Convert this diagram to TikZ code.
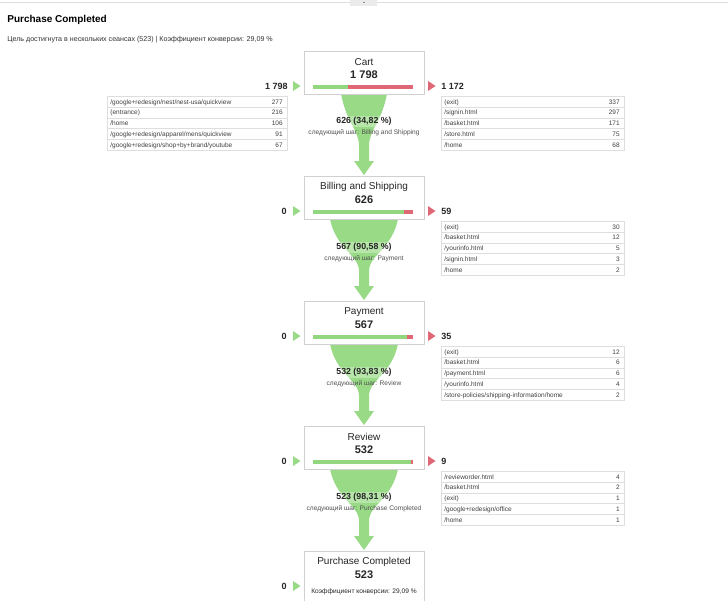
\documentclass[tikz,border=0pt]{standalone}
\usepackage{fontspec}
\setmainfont{Liberation Sans}

\definecolor{fungreen}{RGB}{152,218,134}
\definecolor{bargreen}{RGB}{146,214,128}
\definecolor{exitred}{RGB}{224,104,118}
\definecolor{framegray}{RGB}{208,208,208}
\definecolor{rowgray}{RGB}{222,222,222}
\definecolor{labelgray}{RGB}{80,80,80}

\tikzset{every picture/.style={line width=0.75pt}}
\tikzset{
  stepbox/.style={draw=framegray, fill=white, line width=0.8pt, minimum width=120, minimum height=43, inner sep=0pt},
  steptitle/.style={inner sep=0pt, font=\fontsize{10}{11}\selectfont, text=black!85},
  stepcount/.style={inner sep=0pt, font=\fontsize{11}{12}\selectfont\bfseries, text=black!85},
  sidecount/.style={inner sep=0pt, font=\fontsize{9}{10}\selectfont\bfseries, text=black!85},
  flowcount/.style={inner sep=1pt, font=\fontsize{8.8}{10}\selectfont\bfseries, text=black!85, fill=white, fill opacity=0.3, text opacity=1},
  nextstep/.style={inner sep=0pt, font=\fontsize{6.6}{7.5}\selectfont, text=labelgray},
  rowframe/.style={draw=rowgray, fill=white, line width=0.6pt},
  rowtext/.style={inner sep=0pt, font=\fontsize{6.5}{7}\selectfont, text=black!75},
}

% one row of a page table: left x, top y, width, page, sessions
\newcommand{\pagerow}[5]{%
  \draw[rowframe] (#1,#2) rectangle ++(#3,10.7);
  \node[rowtext,anchor=base west] at (#1+3,#2+7.7) {#4};
  \node[rowtext,anchor=base east] at (#1+#3-4,#2+7.7) {#5};
}

% funnel below a step: top y, half width at top
\newcommand{\stepfunnel}[2]{%
  \fill[fungreen] (364-#2,#1) .. controls (364-#2+6,#1+30) and (359,#1+36) .. (359,#1+52)
    -- (359,#1+67) -- (354,#1+67) -- (364,#1+81) -- (374,#1+67) -- (369,#1+67) -- (369,#1+52)
    .. controls (369,#1+36) and (364+#2-6,#1+30) .. (364+#2,#1) -- cycle;
}

\begin{document}
\begin{tikzpicture}[x=1pt,y=1pt,yscale=-1,xscale=1]
  \useasboundingbox (0,0) rectangle (728,600);
  \clip (0,0) rectangle (728,600);
  \fill[white] (0,0) rectangle (728,600);

  %Shape: top rule and tab
  \draw[color=rowgray, line width=1pt] (0,2) -- (728,2);
  \fill[color=black!8] (350,0) rectangle (377,5.5);
  \fill[color=black!45] (362.5,2.2) rectangle (364.5,3.4);

  % Text Node
  \node (title) [anchor=west, inner sep=0pt, font=\fontsize{10}{12}\selectfont\bfseries] at (7,20) {Purchase Completed};
  % Text Node
  \node (goalinfo) [anchor=west, inner sep=0pt, font=\fontsize{7.1}{8}\selectfont, text=black!80] at (7,40) {Цель достигнута в нескольких сеансах (523) | Коэффициент конверсии: 29,09 \%};

  %Funnels
  \stepfunnel{94}{23}
  \stepfunnel{219}{34}
  \stepfunnel{344}{34}
  \stepfunnel{469}{34}

  %Shape: step boxes
  \node (cart) [stepbox] at (364,72.5) {};
  \node (billing) [stepbox] at (364,197.5) {};
  \node (payment) [stepbox] at (364,322.5) {};
  \node (review) [stepbox] at (364,447.5) {};
  \node (purchase) [stepbox, minimum height=60] at (364,581) {};

  %Shape: progress bars
  \fill[bargreen] (313,85) rectangle (348,89);
  \fill[exitred] (348,85) rectangle (413,89);
  \fill[bargreen] (313,210) rectangle (404,214);
  \fill[exitred] (404,210) rectangle (413,214);
  \fill[bargreen] (313,335) rectangle (407,339);
  \fill[exitred] (407,335) rectangle (413,339);
  \fill[bargreen] (313,460) rectangle (411,464);
  \fill[exitred] (411,460) rectangle (413,464);

  % Text Node
  \node (carttitle) [steptitle] at (364,62) {Cart};
  \node (cartcount) [stepcount] at (364,74.5) {1 798};
  \node (billingtitle) [steptitle] at (364,187) {Billing and Shipping};
  \node (billingcount) [stepcount] at (364,199.5) {626};
  \node (paymenttitle) [steptitle] at (364,312) {Payment};
  \node (paymentcount) [stepcount] at (364,324.5) {567};
  \node (reviewtitle) [steptitle] at (364,437) {Review};
  \node (reviewcount) [stepcount] at (364,449.5) {532};
  \node (purchasetitle) [steptitle] at (364,562) {Purchase Completed};
  \node (purchasecount) [stepcount] at (364,574.5) {523};
  \node (purchaserate) [inner sep=0pt, font=\fontsize{6.6}{7.5}\selectfont, text=black!85] at (364,591.5) {Коэффициент конверсии: 29,09 \%};

  % Text Node: flow between steps
  \node (flowa) [flowcount] at (364,121.5) {626 (34,82 \%)};
  \node (nexta) [nextstep] at (364,132.5) {следующий шаг: Billing and Shipping};
  \node (flowb) [flowcount] at (364,247.5) {567 (90,58 \%)};
  \node (nextb) [nextstep] at (364,258.5) {следующий шаг: Payment};
  \node (flowc) [flowcount] at (364,372.5) {532 (93,83 \%)};
  \node (nextc) [nextstep] at (364,383.5) {следующий шаг: Review};
  \node (flowd) [flowcount] at (364,497.5) {523 (98,31 \%)};
  \node (nextd) [nextstep] at (364,508.5) {следующий шаг: Purchase Completed};

  %Shape: entrance triangles and counts
  \fill[fungreen] (293,81) -- (300.5,86) -- (293,91) -- cycle;
  \fill[fungreen] (293,206) -- (300.5,211) -- (293,216) -- cycle;
  \fill[fungreen] (293,331) -- (300.5,336) -- (293,341) -- cycle;
  \fill[fungreen] (293,456) -- (300.5,461) -- (293,466) -- cycle;
  \fill[fungreen] (293,581) -- (300.5,586) -- (293,591) -- cycle;
  \node (ina) [sidecount, anchor=east] at (288,86.5) {1 798};
  \node (inb) [sidecount, anchor=east] at (287,211.5) {0};
  \node (inc) [sidecount, anchor=east] at (287,336.5) {0};
  \node (ind) [sidecount, anchor=east] at (287,461.5) {0};
  \node (ine) [sidecount, anchor=east] at (287,586.5) {0};

  %Shape: exit triangles and counts
  \fill[exitred] (428,81) -- (435.5,86) -- (428,91) -- cycle;
  \fill[exitred] (428,206) -- (435.5,211) -- (428,216) -- cycle;
  \fill[exitred] (428,331) -- (435.5,336) -- (428,341) -- cycle;
  \fill[exitred] (428,456) -- (435.5,461) -- (428,466) -- cycle;
  \node (outa) [sidecount, anchor=west] at (441,86.5) {1 172};
  \node (outb) [sidecount, anchor=west] at (441,211.5) {59};
  \node (outc) [sidecount, anchor=west] at (441,336.5) {35};
  \node (outd) [sidecount, anchor=west] at (441,461.5) {9};

  % Table: entrances to Cart
  \pagerow{107}{96.5}{180}{/google+redesign/nest/nest-usa/quickview}{277}
  \pagerow{107}{107.2}{180}{(entrance)}{216}
  \pagerow{107}{117.9}{180}{/home}{106}
  \pagerow{107}{128.6}{180}{/google+redesign/apparel/mens/quickview}{91}
  \pagerow{107}{139.3}{180}{/google+redesign/shop+by+brand/youtube}{67}

  % Table: exits from Cart
  \pagerow{441}{96.5}{183}{(exit)}{337}
  \pagerow{441}{107.2}{183}{/signin.html}{297}
  \pagerow{441}{117.9}{183}{/basket.html}{171}
  \pagerow{441}{128.6}{183}{/store.html}{75}
  \pagerow{441}{139.3}{183}{/home}{68}

  % Table: exits from Billing and Shipping
  \pagerow{441}{221.5}{183}{(exit)}{30}
  \pagerow{441}{232.2}{183}{/basket.html}{12}
  \pagerow{441}{242.9}{183}{/yourinfo.html}{5}
  \pagerow{441}{253.6}{183}{/signin.html}{3}
  \pagerow{441}{264.3}{183}{/home}{2}

  % Table: exits from Payment
  \pagerow{441}{346.5}{183}{(exit)}{12}
  \pagerow{441}{357.2}{183}{/basket.html}{6}
  \pagerow{441}{367.9}{183}{/payment.html}{6}
  \pagerow{441}{378.6}{183}{/yourinfo.html}{4}
  \pagerow{441}{389.3}{183}{/store-policies/shipping-information/home}{2}

  % Table: exits from Review
  \pagerow{441}{471.5}{183}{/revieworder.html}{4}
  \pagerow{441}{482.2}{183}{/basket.html}{2}
  \pagerow{441}{492.9}{183}{(exit)}{1}
  \pagerow{441}{503.6}{183}{/google+redesign/office}{1}
  \pagerow{441}{514.3}{183}{/home}{1}

\end{tikzpicture}
\end{document}
